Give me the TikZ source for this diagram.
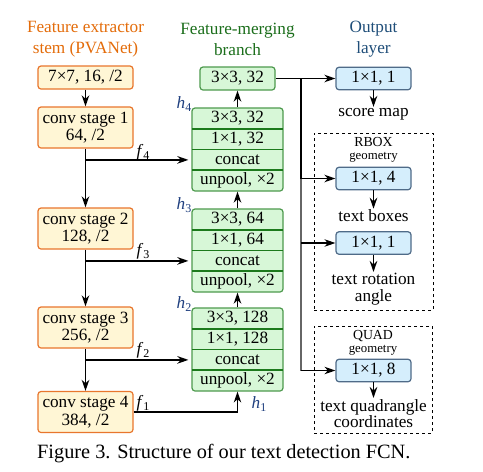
\documentclass[tikz,border=0pt]{standalone}
\usepackage{fontspec}
\setmainfont{Liberation Serif}
\usetikzlibrary{arrows.meta}
\definecolor{stemdraw}{HTML}{E8762D}
\definecolor{stemfill}{HTML}{FFF6D5}
\definecolor{gdraw}{HTML}{4E9A4E}
\definecolor{gfill}{HTML}{D7F7D7}
\definecolor{gline}{HTML}{1C7A1C}
\definecolor{bdraw}{HTML}{4F6B88}
\definecolor{bfill}{HTML}{D5EEFC}
\definecolor{tor}{HTML}{E46C0A}
\definecolor{tgr}{HTML}{1B6E1B}
\definecolor{tbl}{HTML}{1F4E79}
\definecolor{hcol}{HTML}{1F3F7F}
\newcommand{\fs}[2]{\fontsize{#1}{#2}\selectfont}
\newcommand{\lab}[2]{\textit{#1}\raisebox{-3.5pt}{\fs{12}{12}#2}}
\tikzset{
  every node/.style={font=\fs{17.2}{17.5}},
  stembox/.style={draw=stemdraw, fill=stemfill, rounded corners=3pt, line width=1.2pt, minimum width=95pt, align=center, inner sep=0pt},
  gframe/.style={draw=gdraw, fill=gfill, rounded corners=3pt, line width=1.2pt, minimum width=91pt, minimum height=83pt, inner sep=0pt},
  growbox/.style={minimum width=91pt, minimum height=20.75pt, inner sep=0pt},
  gsepline/.style={draw=gline, line width=1.8pt},
  obox/.style={draw=bdraw, fill=bfill, rounded corners=3pt, line width=1.2pt, minimum width=75pt, minimum height=22.5pt, inner sep=0pt},
  arr/.style={-{Stealth[length=11pt,width=7.5pt,inset=3.5pt]}, line width=1.8pt},
  thinarr/.style={-{Stealth[length=11pt,width=7.5pt,inset=3.5pt]}, line width=1.1pt},
  dbox/.style={draw, dashed, line width=0.9pt, inner sep=0pt},
  title/.style={align=center, font=\fs{17.2}{21}},
  geomlab/.style={inner sep=0pt},
  outlab/.style={align=center, inner sep=1pt, font=\fs{17.2}{16.5}},
  hlab/.style={text=hcol, inner sep=0pt},
  flab/.style={inner sep=0pt}
}
\begin{document}
\begin{tikzpicture}[x=1pt,y=-1pt]
\useasboundingbox (0,0) rectangle (483,472);
\fill[white] (0,0) rectangle (483,472);

% titles
\node[title, text=tor] (t1) at (85.5,39.5) {Feature extractor\\stem (PVANet)};
\node[title, text=tgr] (t2) at (237.5,39.5) {Feature-merging\\branch};
\node[title, text=tbl] (t3) at (373.5,39.5) {Output\\layer};

% stem
\node[stembox, minimum height=23pt] (s0) at (85.5,77.5) {7×7, 16, /2};
\node[stembox, minimum height=41pt] (s1) at (85.5,127.5) {conv stage 1\\64, /2};
\node[stembox, minimum height=41pt] (s2) at (85.5,228.5) {conv stage 2\\128, /2};
\node[stembox, minimum height=41pt] (s3) at (85.5,327.5) {conv stage 3\\256, /2};
\node[stembox, minimum height=41pt] (s4) at (85.5,412) {conv stage 4\\384, /2};

% merging branch
\node[gframe, minimum width=75pt, minimum height=23pt] (top) at (237.5,78.5) {3×3, 32};

\node[gframe] (g1) at (237.5,149.5) {};
\draw[gsepline] (192,128.75) -- (283,128.75) (192,149.5) -- (283,149.5) (192,170.25) -- (283,170.25);
\node[growbox] (g1a) at (237.5,118.4) {3×3, 32};
\node[growbox] (g1b) at (237.5,139.1) {1×1, 32};
\node[growbox] (g1c) at (237.5,159.9) {concat};
\node[growbox] (g1d) at (237.5,180.6) {unpool, ×2};

\node[gframe] (g2) at (237.5,250.5) {};
\draw[gsepline] (192,229.75) -- (283,229.75) (192,250.5) -- (283,250.5) (192,271.25) -- (283,271.25);
\node[growbox] (g2a) at (237.5,219.4) {3×3, 64};
\node[growbox] (g2b) at (237.5,240.1) {1×1, 64};
\node[growbox] (g2c) at (237.5,260.9) {concat};
\node[growbox] (g2d) at (237.5,281.6) {unpool, ×2};

\node[gframe] (g3) at (237.5,349.5) {};
\draw[gsepline] (192,328.75) -- (283,328.75) (192,349.5) -- (283,349.5) (192,370.25) -- (283,370.25);
\node[growbox] (g3a) at (237.5,318.4) {3×3, 128};
\node[growbox] (g3b) at (237.5,339.1) {1×1, 128};
\node[growbox] (g3c) at (237.5,359.9) {concat};
\node[growbox] (g3d) at (237.5,380.6) {unpool, ×2};

% dashed groups
\node[dbox, minimum width=119pt, minimum height=177pt] (rbox) at (373.5,221.5) {};
\node[dbox, minimum width=118pt, minimum height=107pt] (qbox) at (373,379.5) {};
\node[geomlab, anchor=base, font=\fs{13.8}{14}] (rt) at (373.5,146.5) {RBOX};
\node[geomlab, anchor=base, font=\fs{12.8}{14}] (rg) at (373.5,159) {geometry};
\node[geomlab, anchor=base, font=\fs{13.8}{14}] (qt) at (373,339.5) {QUAD};
\node[geomlab, anchor=base, font=\fs{12.8}{14}] (qg) at (373,352) {geometry};

% outputs
\node[obox] (o1) at (373.5,78.5) {1×1, 1};
\node[obox] (o2) at (373.5,178.5) {1×1, 4};
\node[obox] (o3) at (373.5,243) {1×1, 1};
\node[obox] (o4) at (373.5,370.5) {1×1, 8};
\node[outlab] (l1) at (373.5,114) {score map};
\node[outlab] (l2) at (373.5,216) {text boxes};
\node[outlab] (l3) at (373.5,289) {text rotation\\angle};
\node[outlab] (l4) at (373.5,413.5) {text quadrangle\\coordinates};

% stem arrows
\draw[arr] (s0.south) -- (s1.north);
\draw[arr] (s1.south) -- (s2.north);
\draw[arr] (s2.south) -- (s3.north);
\draw[arr] (s3.south) -- (s4.north);
\draw[arr, shorten >=3pt] (s1.south |- g1c.west) -- (g1c.west -| g1.west);
\draw[arr, shorten >=3pt] (s2.south |- g2c.west) -- (g2c.west -| g2.west);
\draw[arr, shorten >=3pt] (s3.south |- g3c.west) -- (g3c.west -| g3.west);
\draw[thinarr] (s4.east) -| (g3.south);

% merging arrows
\draw[arr] (g3.north) -- (g2.south);
\draw[arr] (g2.north) -- (g1.south);
\draw[arr] (g1.north) -- (top.south);

% labels f, h
\node[flab] (f4) at (143,152) {\lab{f}{4}};
\node[flab] (f3) at (143,251) {\lab{f}{3}};
\node[flab] (f2) at (143,350) {\lab{f}{2}};
\node[flab] (f1) at (143,403) {\lab{f}{1}};
\node[hlab] (h4) at (184,104) {\lab{h}{4}};
\node[hlab] (h3) at (184,205) {\lab{h}{3}};
\node[hlab] (h2) at (184,304) {\lab{h}{2}};
\node[hlab] (h1) at (259,404) {\lab{h}{1}};

% output connections
\coordinate (j) at (301,78.5);
\draw[arr] (top.east) -- (o1.west);
\draw[line width=1.8pt] (j) -- (j |- o2.west);
\draw[line width=1.5pt, gray!80!black] (j |- o2.west) -- (j |- o4.west);
\draw[arr] (j |- o2.west) -- (o2.west);
\draw[thinarr] (j |- o3.west) -- (o3.west);
\draw[thinarr] (j |- o4.west) -- (o4.west);
\draw[arr] (o1.south) -- (l1.north);
\draw[arr] (o2.south) -- (l2.north);
\draw[arr] (o3.south) -- (l3.north);
\draw[arr] (o4.south) -- (l4.north);

% caption
\node[anchor=west, inner sep=0pt, font=\fs{20.3}{22}] (cap) at (37,454) {Figure 3. Structure of our text detection FCN.};
\end{tikzpicture}
\end{document}
